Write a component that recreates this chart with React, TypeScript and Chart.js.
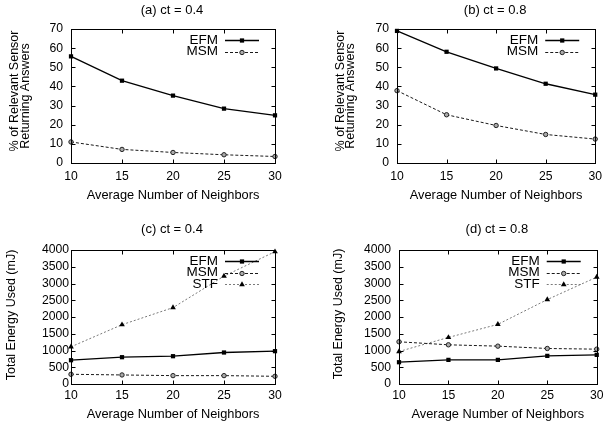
import React, { useEffect, useRef } from "react";
import { Chart, registerables } from "chart.js";
Chart.register(...registerables);

// ---------- data ----------
const neighbors = [10, 15, 20, 25, 30];
const xTicks = [10, 15, 20, 25, 30];
const pctTicks = [0, 10, 20, 30, 40, 50, 60, 70];
const energyTicks = [0, 500, 1000, 1500, 2000, 2500, 3000, 3500, 4000];

const efmA = [55.7, 43.0, 35.2, 28.4, 24.9];
const msmA = [11.0, 7.1, 5.5, 4.3, 3.4];
const efmB = [69.0, 58.1, 49.4, 41.4, 35.7];
const msmB = [37.8, 25.2, 19.6, 14.9, 12.5];
const efmC = [710, 800, 830, 940, 980];
const msmC = [290, 270, 250, 250, 230];
const stfC = [1110, 1770, 2280, 3220, 3950];
const efmD = [650, 720, 720, 840, 870];
const msmD = [1260, 1170, 1130, 1060, 1040];
const stfD = [970, 1390, 1780, 2520, 3190];

const titleA = "(a) ct = 0.4";
const titleB = "(b) ct = 0.8";
const titleC = "(c) ct = 0.4";
const titleD = "(d) ct = 0.8";
const xTitle = "Average Number of Neighbors";
const pctTitle = ["% of Relevant Sensor", "Returning Answers"];
const energyTitle = ["Total Energy Used (mJ)"];

// ---------- styles ----------
const FONT = '"Liberation Sans", Arial, Helvetica, sans-serif';
const TICK_SIZE = 12.2;
const TITLE_SIZE = 13;
const XTITLE_SIZE = 12.8;
const YTITLE_SIZE = 12.5;
const LEGEND_SIZE = 13.5;

type Kind = "EFM" | "MSM" | "STF";
const STYLES: Record<Kind, any> = {
  EFM: { color: "#000", width: 1.3, dash: [], point: "rect", radius: 3, fill: "#000", pBorder: "#000" },
  MSM: { color: "#1a1a1a", width: 1, dash: [3, 2], point: "circle", radius: 2.2, fill: "#aaa", pBorder: "#222" },
  STF: { color: "#7a7a7a", width: 1, dash: [2, 2], point: "triangle", radius: 3.3, fill: "#000", pBorder: "#000" },
};

type Panel = {
  title: string;
  yTitle: string[];
  yTicks: number[];
  yMax: number;
  series: { kind: Kind; data: number[] }[];
  area: { left: number; top: number; right: number; bottom: number };
  yTickPad: number;
  xTickPad: number;
  titleY: number;
  xTitleOff: number;
  yTitleOffs: number[];
  yTitleDy: number[];
  pos: { x: number; y: number };
};

const W = 304;
const H = 213;

const panels: Panel[] = [
  {
    title: titleA, yTitle: pctTitle, yTicks: pctTicks, yMax: 70,
    series: [{ kind: "EFM", data: efmA }, { kind: "MSM", data: msmA }],
    area: { left: 71, top: 29, right: 275, bottom: 163 },
    yTickPad: 8, xTickPad: 6, titleY: 10, xTitleOff: 32,
    yTitleOffs: [56.3, 45.7], yTitleDy: [-5, 0], pos: { x: 0, y: 0 },
  },
  {
    title: titleB, yTitle: pctTitle, yTicks: pctTicks, yMax: 70,
    series: [{ kind: "EFM", data: efmB }, { kind: "MSM", data: msmB }],
    area: { left: 93, top: 29, right: 296, bottom: 163 },
    yTickPad: 8, xTickPad: 6, titleY: 10, xTitleOff: 32,
    yTitleOffs: [56.3, 46], yTitleDy: [-5, 0], pos: { x: 304, y: 0 },
  },
  {
    title: titleC, yTitle: energyTitle, yTicks: energyTicks, yMax: 4000,
    series: [{ kind: "EFM", data: efmC }, { kind: "MSM", data: msmC }, { kind: "STF", data: stfC }],
    area: { left: 71, top: 37, right: 275, bottom: 171 },
    yTickPad: 2, xTickPad: 4.5, titleY: 16, xTitleOff: 30.5,
    yTitleOffs: [59], yTitleDy: [-2], pos: { x: 0, y: 213 },
  },
  {
    title: titleD, yTitle: energyTitle, yTicks: energyTicks, yMax: 4000,
    series: [{ kind: "EFM", data: efmD }, { kind: "MSM", data: msmD }, { kind: "STF", data: stfD }],
    area: { left: 95, top: 37, right: 297, bottom: 171 },
    yTickPad: 8, xTickPad: 4.5, titleY: 16, xTitleOff: 30.5,
    yTitleOffs: [60.6], yTitleDy: [-3], pos: { x: 304, y: 213 },
  },
];

function drawMarker(ctx: CanvasRenderingContext2D, kind: Kind, x: number, y: number) {
  const s = STYLES[kind];
  ctx.save();
  ctx.setLineDash([]);
  ctx.fillStyle = s.fill;
  ctx.strokeStyle = s.pBorder;
  ctx.lineWidth = 1;
  ctx.beginPath();
  if (kind === "EFM") {
    const h = s.radius * Math.SQRT1_2;
    ctx.rect(x - h, y - h, 2 * h, 2 * h);
    ctx.fill();
  } else if (kind === "MSM") {
    ctx.arc(x, y, s.radius, 0, Math.PI * 2);
    ctx.fill();
    ctx.stroke();
  } else {
    const r = s.radius;
    ctx.moveTo(x, y - r);
    ctx.lineTo(x + r * Math.sin(Math.PI / 3), y + r / 2);
    ctx.lineTo(x - r * Math.sin(Math.PI / 3), y + r / 2);
    ctx.closePath();
    ctx.fill();
  }
  ctx.restore();
}

function makeDecor(p: Panel) {
  return {
    id: "decor",
    afterDraw(chart: any) {
      const ctx: CanvasRenderingContext2D = chart.ctx;
      const a = chart.chartArea;
      const xs = chart.scales.x;
      const ys = chart.scales.y;
      const L = Math.round(a.left) + 0.5;
      const R = Math.round(a.right) + 0.5;
      const T = Math.round(a.top) + 0.5;
      const B = Math.round(a.bottom) + 0.5;
      ctx.save();
      ctx.strokeStyle = "#000";
      ctx.lineWidth = 1;
      ctx.setLineDash([]);
      ctx.strokeRect(L, T, R - L, B - T);
      const tl = 4;
      ctx.beginPath();
      for (const v of p.yTicks) {
        const py = Math.round(ys.getPixelForValue(v)) + 0.5;
        ctx.moveTo(L, py); ctx.lineTo(L + tl, py);
        ctx.moveTo(R, py); ctx.lineTo(R - tl, py);
      }
      for (const v of xTicks) {
        const px = Math.round(xs.getPixelForValue(v)) + 0.5;
        ctx.moveTo(px, B); ctx.lineTo(px, B - tl);
        ctx.moveTo(px, T); ctx.lineTo(px, T + tl);
      }
      ctx.stroke();

      ctx.fillStyle = "#000";
      ctx.textAlign = "center";
      ctx.textBaseline = "middle";
      const cx = (a.left + a.right) / 2;
      ctx.font = `${TITLE_SIZE}px ${FONT}`;
      ctx.fillText(p.title, cx - 1, p.titleY);
      ctx.font = `${XTITLE_SIZE}px ${FONT}`;
      ctx.fillText(xTitle, cx, a.bottom + p.xTitleOff);
      const cy = (a.top + a.bottom) / 2;
      ctx.font = `${YTITLE_SIZE}px ${FONT}`;
      p.yTitle.forEach((t, i) => {
        ctx.save();
        ctx.translate(a.left - p.yTitleOffs[i], cy + p.yTitleDy[i]);
        ctx.rotate(-Math.PI / 2);
        ctx.fillText(t, 0, 0);
        ctx.restore();
      });

      // legend (gnuplot style)
      ctx.textAlign = "right";
      ctx.font = `${LEGEND_SIZE}px ${FONT}`;
      p.series.forEach((s, i) => {
        const y = a.top + 10.8 + i * 11.8;
        ctx.fillStyle = "#000";
        ctx.fillText(s.kind, a.right - 57, y);
        const st = STYLES[s.kind];
        ctx.save();
        ctx.strokeStyle = st.color;
        ctx.lineWidth = st.width;
        ctx.setLineDash(st.dash);
        ctx.beginPath();
        ctx.moveTo(a.right - 50, Math.round(y) + 0.5);
        ctx.lineTo(a.right - 16, Math.round(y) + 0.5);
        ctx.stroke();
        ctx.restore();
        drawMarker(ctx, s.kind, a.right - 33, Math.round(y) + 0.5);
      });
      ctx.restore();
    },
  };
}

function PanelChart({ p }: { p: Panel }) {
  const ref = useRef<HTMLCanvasElement | null>(null);
  useEffect(() => {
    if (!ref.current) return;
    const chart = new Chart(ref.current, {
      type: "line",
      data: {
        datasets: p.series.map((s) => {
          const st = STYLES[s.kind];
          return {
            label: s.kind,
            data: neighbors.map((n, i) => ({ x: n, y: s.data[i] })),
            borderColor: st.color,
            borderWidth: st.width,
            borderDash: st.dash,
            pointStyle: st.point,
            pointRadius: st.radius,
            pointBackgroundColor: st.fill,
            pointBorderColor: st.pBorder,
            pointBorderWidth: s.kind === "MSM" ? 1 : 0,
            tension: 0,
            fill: false,
            clip: false,
          };
        }),
      },
      options: {
        responsive: false,
        animation: false,
        events: [],
        layout: {
          padding: { left: 0, top: p.area.top, right: W - p.area.right, bottom: 0 },
        },
        plugins: { legend: { display: false }, tooltip: { enabled: false }, title: { display: false } },
        scales: {
          x: {
            type: "linear",
            min: 10,
            max: 30,
            grid: { display: false, drawTicks: false, tickLength: 0 },
            border: { display: false },
            ticks: {
              autoSkip: false, maxRotation: 0, padding: p.xTickPad, color: "#000",
              font: { family: FONT, size: TICK_SIZE },
              callback: (v: any) => String(v),
            },
            afterBuildTicks: (s: any) => { s.ticks = xTicks.map((v) => ({ value: v })); },
            afterFit: (s: any) => { s.height = H - p.area.bottom; },
          },
          y: {
            type: "linear",
            min: 0,
            max: p.yMax,
            grid: { display: false, drawTicks: false, tickLength: 0 },
            border: { display: false },
            ticks: {
              autoSkip: false, padding: p.yTickPad, color: "#000",
              font: { family: FONT, size: TICK_SIZE },
              callback: (v: any) => String(v),
            },
            afterBuildTicks: (s: any) => { s.ticks = p.yTicks.map((v) => ({ value: v })); },
            afterFit: (s: any) => { s.width = p.area.left; },
          },
        },
      },
      plugins: [makeDecor(p)],
    } as any);
    return () => chart.destroy();
  }, [p]);
  return (
    <canvas
      ref={ref}
      width={W}
      height={H}
      style={{ position: "absolute", left: p.pos.x, top: p.pos.y, width: W, height: H }}
    />
  );
}

export default function App() {
  return (
    <div style={{ position: "fixed", left: 0, top: 0, width: 608, height: 426, background: "#fff", overflow: "hidden" }}>
      {panels.map((p, i) => (
        <PanelChart key={i} p={p} />
      ))}
    </div>
  );
}
